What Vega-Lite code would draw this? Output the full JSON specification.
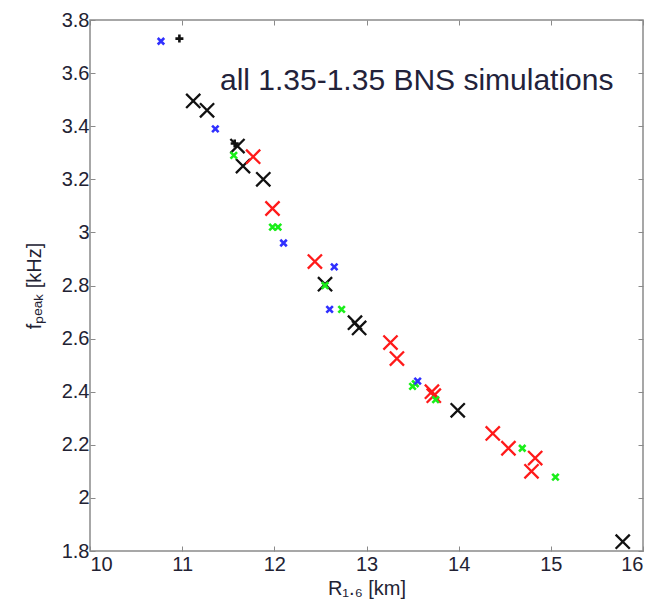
{
  "$schema": "https://vega.github.io/schema/vega-lite/v6.json",
  "width": 553,
  "height": 531,
  "autosize": {"type": "none"},
  "padding": {"left": 90, "top": 20, "right": 16, "bottom": 56},
  "background": "white",
  "config": {
    "view": {"stroke": "#8a8a8a", "strokeWidth": 1.5},
    "font": "Liberation Sans",
    "axis": {"grid": false, "domain": false, "tickColor": "#8a8a8a", "tickSize": -5, "tickWidth": 1,
             "labelFont": "Liberation Sans", "labelFontSize": 20, "labelColor": "#222233",
             "titleFont": "Liberation Sans", "titleFontSize": 20, "titleFontWeight": "normal", "titleColor": "#222233"}
  },
  "data": {"values": [
    {"r": 11.12, "f": 3.495, "c": "black", "m": "X"},
    {"r": 11.27, "f": 3.46, "c": "black", "m": "X"},
    {"r": 11.60, "f": 3.325, "c": "black", "m": "X"},
    {"r": 11.66, "f": 3.25, "c": "black", "m": "X"},
    {"r": 11.88, "f": 3.20, "c": "black", "m": "X"},
    {"r": 12.55, "f": 2.805, "c": "black", "m": "X"},
    {"r": 12.875, "f": 2.66, "c": "black", "m": "X"},
    {"r": 12.92, "f": 2.64, "c": "black", "m": "X"},
    {"r": 13.99, "f": 2.33, "c": "black", "m": "X"},
    {"r": 15.78, "f": 1.835, "c": "black", "m": "X"},
    {"r": 11.77, "f": 3.285, "c": "red", "m": "X"},
    {"r": 11.98, "f": 3.09, "c": "red", "m": "X"},
    {"r": 12.44, "f": 2.89, "c": "red", "m": "X"},
    {"r": 13.26, "f": 2.585, "c": "red", "m": "X"},
    {"r": 13.33, "f": 2.525, "c": "red", "m": "X"},
    {"r": 13.71, "f": 2.40, "c": "red", "m": "X"},
    {"r": 13.73, "f": 2.385, "c": "red", "m": "X"},
    {"r": 14.37, "f": 2.243, "c": "red", "m": "X"},
    {"r": 14.54, "f": 2.187, "c": "red", "m": "X"},
    {"r": 14.83, "f": 2.15, "c": "red", "m": "X"},
    {"r": 14.79, "f": 2.10, "c": "red", "m": "X"},
    {"r": 11.56, "f": 3.29, "c": "green", "m": "x"},
    {"r": 11.98, "f": 3.02, "c": "green", "m": "x"},
    {"r": 12.04, "f": 3.02, "c": "green", "m": "x"},
    {"r": 12.55, "f": 2.80, "c": "green", "m": "x"},
    {"r": 12.73, "f": 2.71, "c": "green", "m": "x"},
    {"r": 13.50, "f": 2.42, "c": "green", "m": "x"},
    {"r": 13.53, "f": 2.43, "c": "green", "m": "x"},
    {"r": 13.75, "f": 2.37, "c": "green", "m": "x"},
    {"r": 14.69, "f": 2.187, "c": "green", "m": "x"},
    {"r": 15.05, "f": 2.078, "c": "green", "m": "x"},
    {"r": 10.77, "f": 3.72, "c": "blue", "m": "x"},
    {"r": 11.36, "f": 3.39, "c": "blue", "m": "x"},
    {"r": 12.10, "f": 2.96, "c": "blue", "m": "x"},
    {"r": 12.65, "f": 2.87, "c": "blue", "m": "x"},
    {"r": 12.60, "f": 2.71, "c": "blue", "m": "x"},
    {"r": 13.555, "f": 2.44, "c": "blue", "m": "x"},
    {"r": 10.97, "f": 3.73, "c": "black", "m": "+"},
    {"r": 11.57, "f": 3.335, "c": "black", "m": "+"}
  ]},
  "resolve": {"axis": {"x": "independent", "y": "independent"}},
  "layer": [
    {
      "mark": {"type": "point", "opacity": 0},
      "encoding": {
        "x": {"field": "r", "type": "quantitative", "scale": {"domain": [10, 16], "nice": false, "zero": false},
              "axis": {"orient": "top", "values": [10, 11, 12, 13, 14, 15, 16], "labels": false, "title": null}},
        "y": {"field": "f", "type": "quantitative", "scale": {"domain": [1.8, 3.8], "nice": false, "zero": false},
              "axis": {"orient": "right", "values": [1.8, 2, 2.2, 2.4, 2.6, 2.8, 3, 3.2, 3.4, 3.6, 3.8], "labels": false, "title": null}}
      }
    },
    {
      "transform": [{"filter": "datum.m === 'X'"}],
      "mark": {"type": "point", "shape": "M-1,-1L1,1M-1,1L1,-1", "filled": false, "size": 200, "strokeWidth": 2.3, "opacity": 1},
      "encoding": {
        "x": {"field": "r", "type": "quantitative",
              "axis": {"orient": "bottom", "values": [10, 11, 12, 13, 14, 15, 16], "title": "R₁.₆ [km]", "labelPadding": 8, "titlePadding": 4}},
        "y": {"field": "f", "type": "quantitative",
              "axis": {"orient": "left", "values": [1.8, 2, 2.2, 2.4, 2.6, 2.8, 3, 3.2, 3.4, 3.6, 3.8], "format": "~g", "title": "fₚₑₐₖ [kHz]", "labelPadding": 6, "titlePadding": 17}},
        "color": {"field": "c", "type": "nominal", "scale": {"domain": ["black", "red", "green", "blue"], "range": ["#111111", "#ff1a1a", "#1aee1a", "#3030ff"]}, "legend": null}
      }
    },
    {
      "transform": [{"filter": "datum.m === 'x'"}],
      "mark": {"type": "point", "shape": "M-1,-1L1,1M-1,1L1,-1", "filled": false, "size": 42, "strokeWidth": 2.6, "opacity": 1},
      "encoding": {
        "x": {"field": "r", "type": "quantitative", "axis": null},
        "y": {"field": "f", "type": "quantitative", "axis": null},
        "color": {"field": "c", "type": "nominal", "legend": null}
      }
    },
    {
      "transform": [{"filter": "datum.m === '+'"}],
      "mark": {"type": "point", "shape": "M-1,0L1,0M0,-1L0,1", "filled": false, "size": 64, "strokeWidth": 2.6, "opacity": 1},
      "encoding": {
        "x": {"field": "r", "type": "quantitative", "axis": null},
        "y": {"field": "f", "type": "quantitative", "axis": null},
        "color": {"field": "c", "type": "nominal", "legend": null}
      }
    },
    {
      "data": {"values": [{"label": "all 1.35-1.35 BNS simulations"}]},
      "mark": {"type": "text", "align": "left", "baseline": "alphabetic", "fontSize": 30, "font": "Liberation Sans", "color": "#22223a"},
      "encoding": {
        "text": {"field": "label"},
        "x": {"datum": 11.41, "type": "quantitative", "axis": null},
        "y": {"datum": 3.536, "type": "quantitative", "axis": null}
      }
    }
  ]
}
